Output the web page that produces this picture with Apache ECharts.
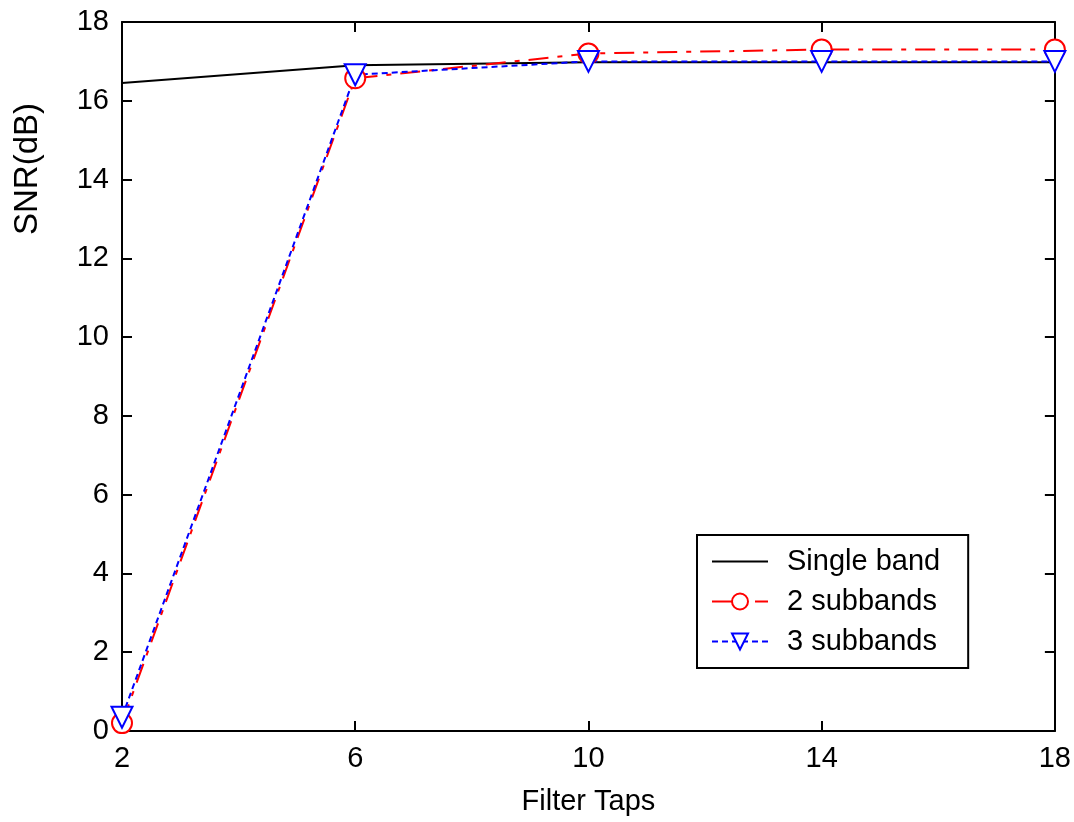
<!DOCTYPE html>
<html lang="en">
	<head>
		<meta charset="UTF-8">
		<title>SNR vs Filter Taps</title>
		<style type="text/css">
			body{
				margin:0;
				background:#fff;
			}
			#main{
				width:1074px;
				height:822px;
			}
		</style>
	</head>
	<body>
		<div id="main"></div>
	</body>
	<script type="text/javascript" src="https://cdn.jsdelivr.net/npm/echarts@6/dist/echarts.min.js"></script>
	<script type="text/javascript">
		// x categories (filter taps)
		var taps = ['2', '6', '10', '14', '18'];
		// SNR values
		var single_band = [16.45, 16.9, 16.98, 16.98, 16.98];
		var two_subbands = [0.2, 16.57, 17.2, 17.3, 17.3];
		var three_subbands = [0.35, 16.66, 17.0, 17.0, 17.0];
		var y_ticks = [0, 2, 4, 6, 8, 10, 12, 14, 16, 18];

		var font = 'Liberation Sans, Arial, sans-serif';
		var my_chart = echarts.init(document.getElementById('main'));

		// box around plot, ticks pointing inside on all four sides
		function boxAxis(labels){
			return {
				axisLine: {show: true, onZero: false, lineStyle: {color: '#000', width: 2}},
				axisTick: {show: true, inside: true, length: 10, lineStyle: {color: '#000', width: 2}},
				axisLabel: {show: labels, color: '#000', fontFamily: font, fontSize: 29, margin: 13},
				splitLine: {show: false}
			};
		}

		var option = {
			backgroundColor: '#fff',
			animation: false,
			grid: {left: 122, right: 16, top: 22, bottom: 91},
			legend: {
				orient: 'vertical',
				left: 697,
				top: 535,
				padding: [12, 28, 12, 14],
				itemGap: 11,
				itemWidth: 56,
				itemHeight: 20,
				borderColor: '#000',
				borderWidth: 2,
				backgroundColor: '#fff',
				textStyle: {color: '#000', fontFamily: font, fontSize: 29, padding: [0, 0, 0, 14]},
				data: [
					{name: 'Single band', itemStyle: {opacity: 0}},
					'2 subbands',
					'3 subbands'
				]
			},
			xAxis: [
				Object.assign({type: 'category', position: 'bottom', boundaryGap: false, data: taps,
					name: 'Filter Taps', nameLocation: 'middle', nameGap: 56,
					nameTextStyle: {color: '#000', fontFamily: font, fontSize: 29}}, boxAxis(true)),
				Object.assign({type: 'category', position: 'top', boundaryGap: false, data: taps}, boxAxis(false))
			],
			yAxis: [
				Object.assign({type: 'value', position: 'left', min: y_ticks[0], max: y_ticks[y_ticks.length - 1], interval: 2}, boxAxis(true)),
				Object.assign({type: 'value', position: 'right', min: y_ticks[0], max: y_ticks[y_ticks.length - 1], interval: 2}, boxAxis(false))
			],
			graphic: [{
				type: 'text',
				left: 11,
				top: 103,
				rotation: Math.PI / 2,
				style: {text: 'SNR(dB)', fill: '#000', font: '33px ' + font}
			}],
			series: [
				{
					name: 'Single band',
					type: 'line',
					data: single_band,
					showSymbol: false,
					symbol: 'none',
					lineStyle: {color: '#000', width: 2},
					itemStyle: {color: '#000'}
				},
				{
					name: '2 subbands',
					type: 'line',
					data: two_subbands,
					symbol: 'emptyCircle',
					symbolSize: 20,
					lineStyle: {color: '#f00', width: 2, type: [20, 9, 5, 9]},
					itemStyle: {color: '#f00', borderWidth: 2}
				},
				{
					name: '3 subbands',
					type: 'line',
					data: three_subbands,
					symbol: 'emptyTriangle',
					symbolRotate: 180,
					symbolSize: 21,
					lineStyle: {color: '#00f', width: 2, type: [6, 4]},
					itemStyle: {color: '#00f', borderWidth: 2}
				}
			]
		};
		my_chart.setOption(option);
	</script>
</html>
